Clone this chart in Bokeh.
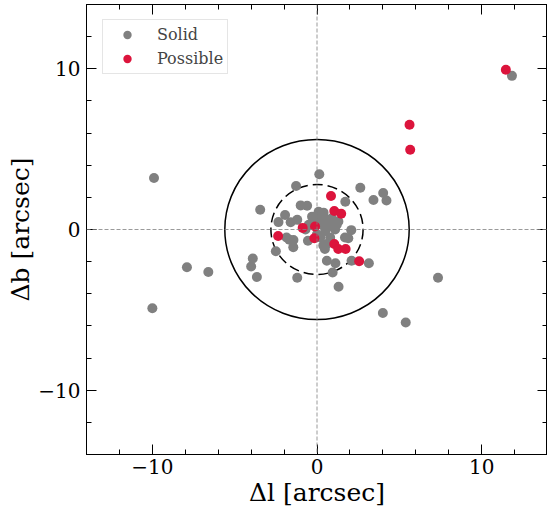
from bokeh.plotting import figure
from bokeh.models import (Span, LinearAxis, SingleIntervalTicker, CustomJSTickFormatter,
                          Legend, LegendItem, Range1d)
from bokeh.embed import file_html
from bokeh.resources import INLINE

# ---- data (arcsec offsets) ----
solid_x = [-9.9, -10.0, -7.9, -6.6, -4.0, -3.9, -3.65, -3.45, -2.5, -1.2, -1.27, 0.14,
           2.63, 3.43, 4.02, 4.22, 1.72, 7.35, 4.0, 5.39, 11.84, 3.15, 2.1, 1.31, 0.95,
           1.12, 0.6,
           -0.99, -0.6, -1.94, -2.34, -1.6, -1.2, -1.68, -1.43, -1.44, -1.85, -0.55,
           0.38, 0.48, 2.08, 1.9, 1.7,
           -0.3, 0.2, 0.6, -0.5, 0.3, 0.8, 1.2, -0.7, 0.5, 1.1, 0.2, 0.8, 0.1, 0.4,
           -0.1, 0.9, 0.0, 0.6, 1.3]
solid_y = [3.2, -4.9, -2.35, -2.65, -2.3, -1.8, -2.95, 1.23, -1.35, -3.0, 2.71, 3.44,
           2.6, 1.84, 2.27, 1.81, 1.73, -3.0, -5.19, -5.79, 9.56, -2.1, -1.95, -3.56, -2.67,
           -2.1, -1.95,
           1.5, 1.48, 0.9, 0.46, 0.45, 0.6, -0.63, -0.65, -1.1, -0.5, -0.7,
           -1.0, -1.21, -0.04, -0.55, -0.5,
           0.8, 0.8, 0.6, 0.3, 0.3, 0.2, 0.3, 0.0, -0.1, 0.0, -0.5, -0.5, 1.1, 1.05,
           0.5, 0.7, -0.3, -0.9, 0.5]
possible_x = [11.47, 5.62, 5.66, 0.85, 1.05, 1.47, -0.87, -0.12, -0.16, -2.36, 1.05, 1.29, 1.74, 2.56]
possible_y = [9.94, 6.52, 4.96, 2.08, 1.15, 0.98, 0.1, 0.19, -0.54, -0.4, -0.9, -1.21, -1.21, -1.98]

outer_radius = 5.6
inner_radius = 2.8
x_limits = (-14, 14)
y_limits = (-14, 14)
major_step = 10
series_labels = ["Solid", "Possible"]
series_colors = ["#808080", "#DC143C"]

FONT = "DejaVu Serif"

p = figure(width=547, height=512, output_backend="svg", toolbar_location=None,
           x_range=Range1d(*x_limits), y_range=Range1d(*y_limits),
           x_axis_location=None, y_axis_location=None,
           min_border_left=86, min_border_right=0, min_border_top=4, min_border_bottom=58)
p.grid.visible = False
p.outline_line_color = "black"
p.outline_line_width = 1
p.background_fill_color = "white"
p.border_fill_color = "white"

empty_fmt = CustomJSTickFormatter(code="return ''")


def make_axis(labels=True, label_text=None, label_standoff=0, tick_standoff=5):
    ax = LinearAxis(ticker=SingleIntervalTicker(interval=major_step, num_minor_ticks=5))
    ax.major_tick_in = 10
    ax.major_tick_out = 0
    ax.minor_tick_in = 5
    ax.minor_tick_out = 0
    ax.major_tick_line_color = "black"
    ax.minor_tick_line_color = "black"
    ax.axis_line_color = "black"
    if labels:
        ax.major_label_text_font = FONT
        ax.major_label_text_font_size = "20px"
        ax.major_label_text_color = "black"
        ax.major_label_standoff = tick_standoff
        ax.axis_label = label_text
        ax.axis_label_text_font = FONT
        ax.axis_label_text_font_size = "25px"
        ax.axis_label_text_font_style = "normal"
        ax.axis_label_text_color = "black"
        ax.axis_label_standoff = label_standoff
    else:
        ax.formatter = empty_fmt
        ax.major_label_standoff = 0
        ax.major_label_text_font_size = "0px"
    return ax


p.add_layout(make_axis(True, "Δl [arcsec]", label_standoff=1, tick_standoff=4), "below")
p.add_layout(make_axis(True, "Δb [arcsec]", label_standoff=0, tick_standoff=6), "left")
p.add_layout(make_axis(False), "above")
p.add_layout(make_axis(False), "right")

# crosshair
p.add_layout(Span(location=0, dimension="height", line_color="gray", line_width=0.8, line_dash="4 2"))
p.add_layout(Span(location=0, dimension="width", line_color="gray", line_width=0.8, line_dash="4 2"))

# circles
p.ellipse(x=0, y=0, width=2 * outer_radius, height=2 * outer_radius,
          fill_color=None, line_color="black", line_width=1.5)
p.ellipse(x=0, y=0, width=2 * inner_radius, height=2 * inner_radius,
          fill_color=None, line_color="black", line_width=1.5, line_dash="10 5")

r_solid = p.scatter(solid_x, solid_y, size=10, fill_color=series_colors[0], line_color=None)
r_poss = p.scatter(possible_x, possible_y, size=10, fill_color=series_colors[1], line_color=None)

legend = Legend(items=[LegendItem(label=series_labels[0], renderers=[r_solid]),
                       LegendItem(label=series_labels[1], renderers=[r_poss])],
                location=(16, 380))
legend.label_text_font = FONT
legend.label_text_font_size = "16px"
legend.glyph_width = 40
legend.glyph_height = 21
legend.label_height = 21
legend.label_standoff = 10
legend.spacing = 3
legend.padding = 4
legend.margin = 0
legend.border_line_color = "#cccccc"
legend.border_line_width = 1
legend.background_fill_alpha = 0.8
p.add_layout(legend)

open("out.html", "w").write(file_html(p, INLINE))
